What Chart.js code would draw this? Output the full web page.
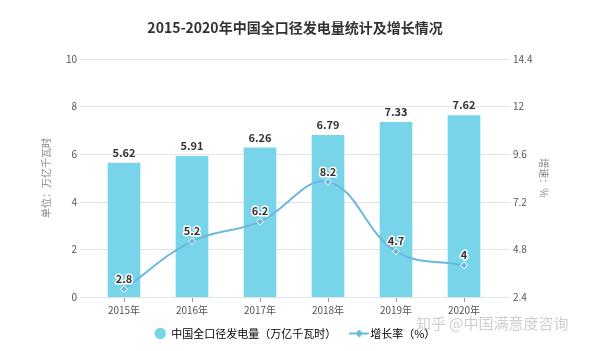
<!DOCTYPE html>
<html>
<head>
<meta charset="utf-8">
<script src="https://cdn.jsdelivr.net/npm/chart.js@4/dist/chart.umd.min.js"></script>
<style>
  html, body { margin: 0; padding: 0; background: #fff; }
  #wrap { width: 600px; height: 351px; }
</style>
</head>
<body>
<div id="wrap"><canvas id="c" width="600" height="351"></canvas></div>
<script>
const years = ['2015年', '2016年', '2017年', '2018年', '2019年', '2020年'];
const output = [5.62, 5.91, 6.26, 6.79, 7.33, 7.62];
const growth = [2.8, 5.2, 6.2, 8.2, 4.7, 4];
const leftTicks = [0, 2, 4, 6, 8, 10];
const rightTicks = [2.4, 4.8, 7.2, 9.6, 12, 14.4];

const FONT = '"Noto Sans CJK SC", "Noto Sans", sans-serif';
const barColor = '#78d4e9';
const lineColor = '#6db8df';

// legend marker for the line series: short line with a diamond
const lineMark = document.createElement('canvas');
lineMark.width = 20; lineMark.height = 10;
(function() {
    const g = lineMark.getContext('2d');
    g.strokeStyle = lineColor; g.lineWidth = 2;
    g.beginPath(); g.moveTo(0, 5); g.lineTo(20, 5); g.stroke();
    g.fillStyle = lineColor;
    g.beginPath(); g.moveTo(10, 1); g.lineTo(14, 5); g.lineTo(10, 9); g.lineTo(6, 5); g.closePath(); g.fill();
})();

// grid lines a bit wider than the plot, like the original
const gridPlugin = {
    id: 'grid',
    beforeDatasetsDraw(chart) {
        const ctx = chart.ctx, y = chart.scales.y, a = chart.chartArea;
        ctx.save();
        ctx.strokeStyle = '#e3e3e3'; ctx.lineWidth = 1;
        leftTicks.forEach(v => {
            const py = Math.round(y.getPixelForValue(v)) + 0.5;
            ctx.beginPath(); ctx.moveTo(a.left - 10, py); ctx.lineTo(a.right + 12, py); ctx.stroke();
        });
        ctx.restore();
    }
};

const labelPlugin = {
    id: 'labels',
    afterDatasetsDraw(chart) {
        const ctx = chart.ctx;
        ctx.save();
        ctx.font = 'bold 11px ' + FONT;
        ctx.textAlign = 'center';
        ctx.textBaseline = 'bottom';
        chart.getDatasetMeta(1).data.forEach((bar, i) => {
            ctx.fillStyle = '#333';
            ctx.fillText(output[i].toFixed(2), bar.x, bar.y - 5);
        });
        chart.getDatasetMeta(0).data.forEach((pt, i) => {
            ctx.lineWidth = 3; ctx.strokeStyle = '#fff'; ctx.lineJoin = 'round';
            ctx.strokeText(String(growth[i]), pt.x, pt.y - 5);
            ctx.fillStyle = '#333';
            ctx.fillText(String(growth[i]), pt.x, pt.y - 5);
        });
        // zhihu watermark
        ctx.font = '15px ' + FONT;
        ctx.textAlign = 'left';
        ctx.textBaseline = 'middle';
        ctx.fillStyle = 'rgba(190,190,190,0.75)';
        ctx.fillText('知乎 @中国满意度咨询', 416, 323);
        ctx.restore();
    }
};

new Chart(document.getElementById('c'), {
    data: {
        labels: years,
        datasets: [
            {
                type: 'line',
                label: '增长率（%）',
                data: growth,
                yAxisID: 'y1',
                borderColor: lineColor,
                backgroundColor: lineColor,
                borderWidth: 2,
                tension: 0.4,
                pointRadius: 3.5,
                pointStyle: 'rectRot',
                pointBackgroundColor: lineColor,
                pointBorderColor: '#fff',
                pointBorderWidth: 1,
                order: 0
            },
            {
                type: 'bar',
                label: '中国全口径发电量（万亿千瓦时）',
                data: output,
                yAxisID: 'y',
                backgroundColor: barColor,
                barThickness: 32,
                order: 1
            }
        ]
    },
    options: {
        responsive: false,
        animation: false,
        layout: { padding: { left: 36, right: 46, top: 0, bottom: 2 } },
        plugins: {
            title: {
                display: true,
                text: '2015-2020年中国全口径发电量统计及增长情况',
                color: '#333',
                font: { family: FONT, size: 14, weight: 'bold' },
                padding: { top: 19, bottom: 23 }
            },
            legend: {
                position: 'bottom',
                labels: {
                    font: { family: FONT, size: 11 },
                    color: '#444',
                    usePointStyle: true,
                    boxHeight: 8,
                    padding: 10,
                    generateLabels(chart) {
                        return [
                            { text: '中国全口径发电量（万亿千瓦时）   ', pointStyle: 'circle', fillStyle: barColor, strokeStyle: barColor, lineWidth: 0, datasetIndex: 1 },
                            { text: '增长率（%）', pointStyle: lineMark, fillStyle: lineColor, strokeStyle: lineColor, lineWidth: 0, datasetIndex: 0 }
                        ];
                    }
                }
            },
            tooltip: { enabled: false }
        },
        scales: {
            x: {
                grid: { display: true, drawOnChartArea: false, offset: false, tickLength: 5, color: '#999' },
                border: { color: '#999' },
                ticks: { color: '#555', font: { family: FONT, size: 10 }, padding: 2 }
            },
            y: {
                position: 'left',
                min: 0, max: 10,
                afterBuildTicks(s) { s.ticks = leftTicks.map(v => ({ value: v })); },
                grid: { display: false, drawTicks: false },
                border: { display: false },
                ticks: { color: '#555', font: { family: FONT, size: 10 }, padding: 13 },
                title: { display: true, text: '单位：万亿千瓦时', color: '#888', font: { family: FONT, size: 10 }, padding: 4 },
                afterFit(s) { s.width = 54; }
            },
            y1: {
                position: 'right',
                min: 2.4, max: 14.4,
                afterBuildTicks(s) { s.ticks = rightTicks.map(v => ({ value: v })); },
                grid: { display: false, drawTicks: false },
                border: { display: false },
                ticks: { color: '#555', font: { family: FONT, size: 10 }, padding: 15 },
                title: { display: true, text: '增速：%', color: '#888', font: { family: FONT, size: 10 }, padding: 4 },
                afterFit(s) { s.width = 56; }
            }
        }
    },
    plugins: [gridPlugin, labelPlugin]
});
</script>
</body>
</html>
